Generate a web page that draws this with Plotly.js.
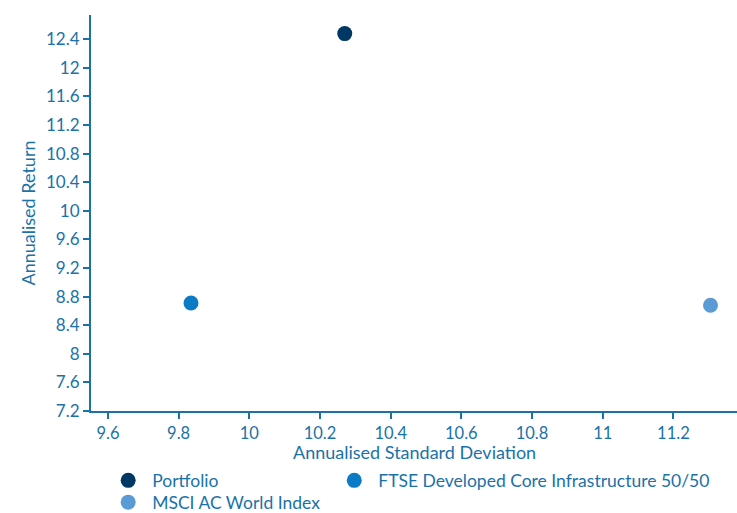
<!DOCTYPE html>
<html>
<head>
<meta charset="utf-8">
<script src="https://cdn.plot.ly/plotly-3.0.1.min.js"></script>
<style>html,body{margin:0;padding:0;background:#fff;}#chart{width:737px;height:513px;}</style>
</head>
<body>
<div id="chart"></div>
<script>
const seriesNames = ["Portfolio", "FTSE Developed Core Infrastructure 50/50", "MSCI AC World Index"];
const stdDev = [10.27, 9.835, 11.305];
const annReturn = [12.48, 8.71, 8.68];
const colors = ["#003865", "#0a7bc4", "#5b9bd5"];
const legendOf = ["legend", "legend2", "legend3"];
const xTicks = [9.6, 9.8, 10, 10.2, 10.4, 10.6, 10.8, 11, 11.2];
const yTicks = [7.2, 7.6, 8, 8.4, 8.8, 9.2, 9.6, 10, 10.4, 10.8, 11.2, 11.6, 12, 12.4];
const xTitle = "Annualised Standard Deviation";
const yTitle = "Annualised Return";

const axisColor = "#1a72a8";
const traces = seriesNames.map((n, i) => ({
  type: "scatter", mode: "markers", name: n, legend: legendOf[i],
  x: [stdDev[i]], y: [annReturn[i]],
  marker: {color: colors[i], size: 15}
}));

const legFont = {family: "Lato, 'Open Sans', sans-serif", size: 17.5, color: axisColor};
const leg = (x, y) => ({orientation: "v", x: x, y: y, xanchor: "left", yanchor: "top",
                        bgcolor: "rgba(0,0,0,0)", font: legFont, tracegroupgap: 0, itemwidth: 38});
const layout = {
  width: 737, height: 513,
  margin: {l: 91, r: 0, t: 15, b: 102, autoexpand: false},
  paper_bgcolor: "#fff", plot_bgcolor: "#fff",
  font: {family: "Lato, 'Open Sans', sans-serif", size: 17, color: axisColor},
  showlegend: true,
  legend: leg(0.0204, -0.130),
  legend2: leg(0.3704, -0.130),
  legend3: leg(0.0204, -0.185),
  annotations: [{text: xTitle, xref: "paper", yref: "paper", x: 0.5, y: -0.1035,
                 xanchor: "center", yanchor: "middle", showarrow: false,
                 font: {size: 18, color: axisColor}}],
  xaxis: {range: [9.552, 11.38], tickvals: xTicks, ticktext: xTicks.map(String),
          showgrid: false, zeroline: false, showline: true, linecolor: axisColor, linewidth: 2,
          ticks: "outside", ticklen: 6, tickcolor: axisColor, tickwidth: 2,
          tickfont: {size: 16.5, color: axisColor}},
  yaxis: {range: [7.2, 12.74], tickvals: yTicks, ticktext: yTicks.map(String),
          showgrid: false, zeroline: false, showline: true, linecolor: axisColor, linewidth: 2,
          ticks: "outside", ticklen: 6, tickcolor: axisColor, tickwidth: 2,
          tickfont: {size: 17, color: axisColor},
          title: {text: yTitle, font: {size: 18, color: axisColor}, standoff: 6}}
};
Plotly.newPlot("chart", traces, layout, {displayModeBar: false, staticPlot: true});
</script>
</body>
</html>
